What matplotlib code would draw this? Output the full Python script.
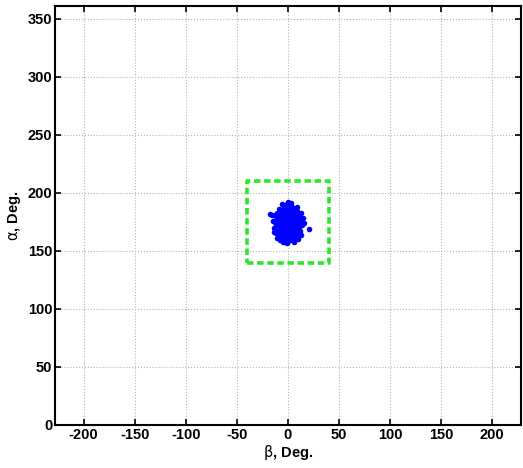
import matplotlib
matplotlib.use("Agg")
import matplotlib.pyplot as plt

beta = [-1, 1, -3, 2, -2, 0, 3, -5, 4, -4, 1, -1, 5, -6, 6, -7, 7, -3, 2, 0,
        -8, 8, -9, 9, -2, 3, -5, 5, -7, 7, -10, 10, -4, 4, -6, 6, -11, 11, -1, 1,
        -12, 12, -9, 9, -8, 8, -3, 2, 0, -2, 1, 3, -4, 4, -1, 2, -6, 6, -3, 5,
        -13, 13, -10, 10, -5, 5, -7, 7, -11, 11, -14, 14, 0, -1, -12, 12, -9, 9, -6, 3,
        -15, -14, 13, 15, -16, 16, -18, 21, -2, 1, -8, 8, -5, 6, -10, 10, -3, 3, -7, 7,
        -11, 10, -4, 4, -13, 13, -2, 2, 0, -1, 1, -6, 6, -9, 9, -12, 12, -8, 6, -5]
alpha = [173, 175, 171, 170, 177, 168, 178, 174, 172, 168, 181, 165, 176, 179, 169, 171, 174, 182, 164, 186,
         176, 178, 168, 171, 160, 184, 163, 163, 183, 182, 173, 175, 187, 188, 165, 166, 178, 170, 190, 162,
         172, 173, 181, 184, 164, 163, 158, 159, 178, 174, 170, 173, 176, 179, 169, 167, 172, 173, 166, 181,
         175, 176, 167, 166, 186, 186, 160, 161, 183, 180, 170, 172, 192, 157, 165, 167, 186, 188, 190, 191,
         176, 166, 164, 178, 181, 174, 182, 169, 183, 187, 170, 168, 170, 177, 179, 182, 179, 165, 167, 170,
         161, 160, 161, 160, 181, 183, 185, 183, 163, 180, 176, 184, 184, 175, 177, 177, 179, 159, 158, 158]

# limits of the allowed region
box_beta = [-40, 40, 40, -40, -40]
box_alpha = [140, 140, 210, 210, 140]

xticks = [-200, -150, -100, -50, 0, 50, 100, 150, 200]
yticks = [0, 50, 100, 150, 200, 250, 300, 350]

plt.rcParams['font.family'] = ['Liberation Sans', 'DejaVu Sans']

fig = plt.figure(figsize=(5.23, 4.68), dpi=100)
ax = fig.add_axes([0.105, 0.092, 0.891, 0.895])

ax.plot(box_beta, box_alpha, color='#2ee62a', linestyle='--', linewidth=2.6,
        dashes=(1.8, 1.0), zorder=2)
ax.plot(beta, alpha, 'o', color='#0000ff', markersize=4.0, markeredgewidth=0, zorder=3)

ax.set_xlim(-228, 228)
ax.set_ylim(0, 361)
ax.set_xticks(xticks)
ax.set_yticks(yticks)
ax.set_xticklabels([str(v) for v in xticks], fontweight='bold', fontsize=10.5)
ax.set_yticklabels([str(v) for v in yticks], fontweight='bold', fontsize=10.5)

ax.grid(True, linestyle=':', color='#b4b4b4', linewidth=0.8)
ax.set_axisbelow(True)
ax.tick_params(direction='in', top=True, right=True, length=4, width=1.2, pad=2)
for s in ax.spines.values():
    s.set_linewidth(1.5)

ax.set_xlabel(r'$\mathrm{\beta}$, Deg.', fontweight='bold', fontsize=10.5, labelpad=1)
ax.set_ylabel(r'$\mathrm{\alpha}$, Deg.', fontweight='bold', fontsize=10.5, labelpad=3)

fig.savefig('out.png', dpi=100)
